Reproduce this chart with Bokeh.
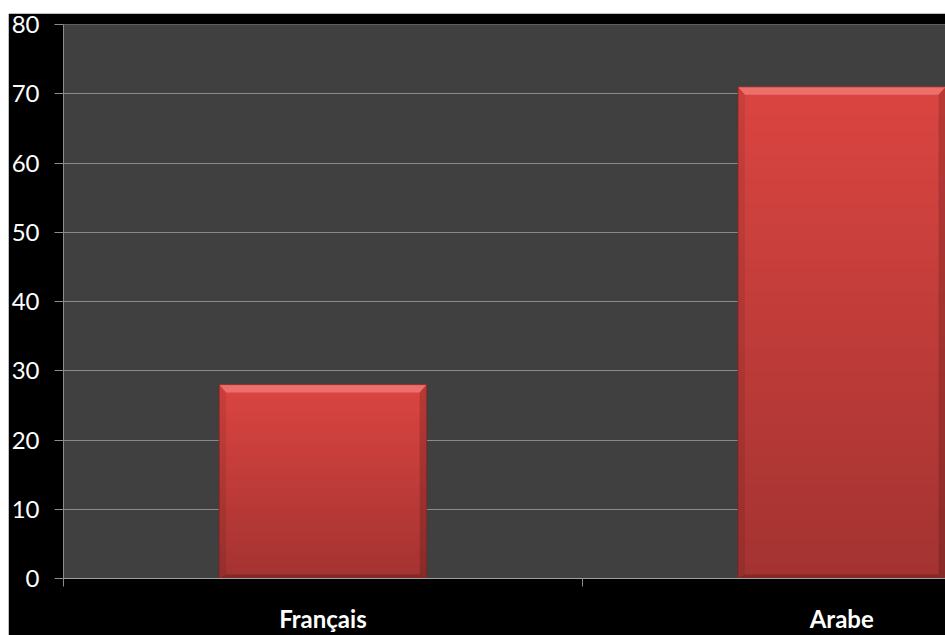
from bokeh.plotting import figure
from bokeh.models import Range1d, FixedTicker
from bokeh.embed import file_html
from bokeh.resources import INLINE

categories = ["Français", "Arabe"]
values = [28, 71]
y_ticks = [0, 10, 20, 30, 40, 50, 60, 70, 80]

positions = [i + 0.5 for i in range(len(categories))]
boundaries = [float(i) for i in range(len(categories) + 1)]
bar_width = 0.4

p = figure(width=937, height=622, x_range=Range1d(0, 1.7), y_range=Range1d(0, 80),
           output_backend="svg", toolbar_location=None,
           min_border_left=54, min_border_right=0, min_border_top=11, min_border_bottom=55)
p.margin = (13, 0, 0, 8)
p.background_fill_color = "#404040"
p.border_fill_color = "black"
p.outline_line_color = None

# gradient body
N = 100
def lerp(c1, c2, t):
    a = [int(c1[i:i+2], 16) for i in (1, 3, 5)]
    b = [int(c2[i:i+2], 16) for i in (1, 3, 5)]
    return "#%02x%02x%02x" % tuple(int(round(a[k] + (b[k] - a[k]) * t)) for k in range(3))

L, R, B, T, C = [], [], [], [], []
for x, v in zip(positions, values):
    for k in range(N):
        L.append(x - bar_width / 2)
        R.append(x + bar_width / 2)
        B.append(v * k / N)
        T.append(min(v, v * (k + 1.6) / N))
        C.append(lerp("#a33331", "#db4541", (k + 0.5) / N))
p.quad(left=L, right=R, bottom=B, top=T, fill_color=C, line_color=None)

bx = 7 / 519.4
by = 8 * 80 / 556
bb = 4 * 80 / 556
top_xs, top_ys, l_xs, l_ys, r_xs, r_ys, b_xs, b_ys = [], [], [], [], [], [], [], []
for x, v in zip(positions, values):
    l, r = x - bar_width / 2, x + bar_width / 2
    top_xs.append([l, r, r - bx, l + bx]); top_ys.append([v, v, v - by, v - by])
    l_xs.append([l, l + bx, l + bx, l]); l_ys.append([v, v - by, bb, 0])
    r_xs.append([r, r - bx, r - bx, r]); r_ys.append([v, v - by, bb, 0])
    b_xs.append([l, l + bx, r - bx, r]); b_ys.append([0, bb, bb, 0])
p.patches(top_xs, top_ys, fill_color="#ff9a96", fill_alpha=0.5, line_color=None)
p.patches(l_xs, l_ys, fill_color="black", fill_alpha=0.08, line_color=None)
p.patches(r_xs, r_ys, fill_color="black", fill_alpha=0.16, line_color=None)
p.patches(b_xs, b_ys, fill_color="black", fill_alpha=0.2, line_color=None)
p.vbar(x=positions, top=values, width=bar_width, bottom=0, fill_color=None,
       line_color="#7a2220", line_alpha=0.7, line_width=1)

# axes
p.yaxis.ticker = FixedTicker(ticks=y_ticks)
p.yaxis.axis_line_color = "#8c8c8c"
p.yaxis.major_tick_line_color = "#8c8c8c"
p.yaxis.major_tick_out = 9
p.yaxis.major_tick_in = 0
p.yaxis.minor_tick_line_color = None
p.yaxis.major_label_text_color = "white"
p.yaxis.major_label_text_font = "Lato"
p.yaxis.major_label_text_font_size = "24px"
p.yaxis.major_label_standoff = 15

p.xaxis.ticker = FixedTicker(ticks=positions, minor_ticks=boundaries)
p.xaxis.major_label_overrides = {pos: c for pos, c in zip(positions, categories)}
p.xaxis.axis_line_color = "#a0a0a0"
p.xaxis.major_tick_line_color = None
p.xaxis.major_tick_out = 8
p.xaxis.major_tick_in = 0
p.xaxis.minor_tick_line_color = "#8c8c8c"
p.xaxis.minor_tick_out = 8
p.xaxis.minor_tick_in = 0
p.xaxis.major_label_text_color = "white"
p.xaxis.major_label_text_font = "Lato"
p.xaxis.major_label_text_font_style = "bold"
p.xaxis.major_label_text_font_size = "24px"
p.xaxis.major_label_standoff = 17

p.xgrid.grid_line_color = None
p.ygrid.ticker = FixedTicker(ticks=y_ticks)
p.ygrid.grid_line_color = "#8a8a8a"
p.ygrid.grid_line_width = 1

open("out.html", "w").write(file_html(p, INLINE))
